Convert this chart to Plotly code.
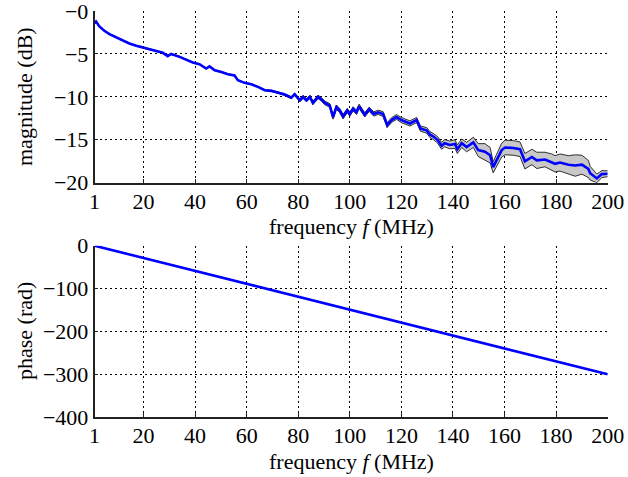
import plotly.graph_objects as go

# ---- data ----
freq_mhz = [1.0, 1.6, 2.9, 4.8, 6.8, 9.4, 11.9, 14.5, 17.2, 20.0, 22.3, 24.9, 27.5, 29.4, 30.7,
            34.0, 36.6, 39.1, 41.7, 44.3, 45.6, 47.6, 50.2, 52.7, 55.3, 56.6, 59.2, 61.8, 64.4,
            67.0, 69.6, 72.1, 74.7, 77.3, 78.6, 80.6, 81.9, 83.2, 84.5, 85.7, 87.7, 89.0, 90.3,
            92.2, 93.5, 94.8, 96.1, 97.4, 99.0, 100.0, 101.3, 102.6, 103.6, 105.8, 107.5, 109.3,
            111.0, 112.9, 114.5, 116.2, 118.1, 120.0, 121.7, 123.3, 125.9, 127.4, 129.8, 131.1,
            132.3, 134.0, 135.6, 136.8, 138.8, 140.8, 141.7, 143.4, 145.3, 147.9, 149.8, 152.4,
            154.4, 155.6, 156.9, 158.9, 160.2, 163.4, 166.0, 167.9, 170.6, 172.5, 175.7, 178.3,
            179.6, 181.5, 184.8, 187.4, 190.0, 192.5, 193.2, 195.8, 197.7, 200.0]

magnitude_db = [-1.40, -1.22, -1.80, -2.30, -2.70, -3.08, -3.47, -3.78, -4.05, -4.28, -4.48, -4.67,
                -4.87, -5.26, -5.00, -5.34, -5.65, -6.00, -6.20, -6.70, -6.45, -6.90, -7.10, -7.36,
                -7.50, -8.06, -8.37, -8.53, -8.84, -9.23, -9.30, -9.54, -9.73, -10.10, -9.70,
                -10.40, -10.00, -10.40, -10.00, -10.70, -10.00, -10.30, -10.70, -11.00, -12.35,
                -11.20, -11.60, -12.30, -11.60, -12.00, -11.40, -11.80, -11.10, -12.10, -11.45,
                -12.00, -11.80, -12.00, -13.30, -12.70, -12.35, -12.70, -12.90, -13.10, -12.70,
                -13.70, -13.90, -14.40, -14.60, -15.00, -15.70, -15.40, -15.60, -15.50, -16.10,
                -15.40, -15.85, -15.30, -16.20, -16.40, -16.80, -18.20, -17.40, -16.20, -15.90,
                -15.95, -16.10, -17.50, -17.00, -17.40, -17.30, -17.60, -17.80, -17.65, -17.90,
                -18.00, -17.90, -18.40, -18.90, -19.50, -19.00, -18.95]

# half-width of the grey uncertainty band (dB)
band_halfwidth_db = [0.05, 0.05, 0.05, 0.05, 0.05, 0.05, 0.05, 0.05, 0.05, 0.05, 0.05, 0.05,
                     0.05, 0.05, 0.05, 0.05, 0.05, 0.05, 0.05, 0.05, 0.05, 0.05, 0.05, 0.05,
                     0.05, 0.05, 0.05, 0.05, 0.05, 0.05, 0.08, 0.08, 0.10, 0.12, 0.12,
                     0.18, 0.18, 0.18, 0.18, 0.20, 0.20, 0.20, 0.22, 0.22, 0.25,
                     0.25, 0.25, 0.25, 0.25, 0.25, 0.25, 0.25, 0.25, 0.25, 0.25,
                     0.25, 0.25, 0.28, 0.28, 0.28, 0.28, 0.30, 0.30, 0.30, 0.30,
                     0.30, 0.32, 0.35, 0.35, 0.38, 0.40, 0.42, 0.45, 0.50, 0.50,
                     0.50, 0.55, 0.60, 0.75, 0.95, 0.90, 0.65, 0.70, 0.80, 0.85,
                     0.85, 0.85, 0.90, 0.90, 0.95, 0.85, 0.95, 0.95, 1.00, 1.05,
                     1.25, 1.10, 1.00, 0.80, 0.50, 0.40, 0.35]

phase_freq_mhz = [1, 20, 40, 60, 80, 100, 120, 140, 160, 180, 200]
phase_rad = [0, -28.6, -58.8, -89.0, -119.2, -149.4, -179.6, -209.8, -240.0, -270.2, -300.4]

mag_ticks = [0, -5, -10, -15, -20]
mag_ticktext = ["\u22120", "\u22125", "\u221210", "\u221215", "\u221220"]
phase_ticks = [0, -100, -200, -300, -400]
phase_ticktext = ["0", "\u2212100", "\u2212200", "\u2212300", "\u2212400"]
freq_ticks = [1, 20, 40, 60, 80, 100, 120, 140, 160, 180, 200]
freq_ticktext = [str(v) for v in freq_ticks]

upper = [m + h for m, h in zip(magnitude_db, band_halfwidth_db)]
lower = [m - h for m, h in zip(magnitude_db, band_halfwidth_db)]

FONT = "Liberation Serif, Times New Roman, DejaVu Serif, serif"
FS = 22
W, H = 628, 477
xdom = [94.5 / W, 607.7 / W]
ydom_top = [1 - 182.7 / H, 1 - 11 / H]
ydom_bot = [1 - 417 / H, 1 - 245.7 / H]

fig = go.Figure()
fig.add_trace(go.Scatter(x=freq_mhz, y=lower, mode="lines",
                         line=dict(color="black", width=0.8), showlegend=False,
                         xaxis="x", yaxis="y"))
fig.add_trace(go.Scatter(x=freq_mhz, y=upper, mode="lines", fill="tonexty",
                         fillcolor="rgb(200,200,200)",
                         line=dict(color="black", width=0.8), showlegend=False,
                         xaxis="x", yaxis="y"))
fig.add_trace(go.Scatter(x=freq_mhz, y=magnitude_db, mode="lines",
                         line=dict(color="rgb(0,0,255)", width=2.6), showlegend=False,
                         xaxis="x", yaxis="y"))
fig.add_trace(go.Scatter(x=phase_freq_mhz, y=phase_rad, mode="lines",
                         line=dict(color="rgb(0,0,255)", width=2.6), showlegend=False,
                         xaxis="x2", yaxis="y2"))

axis_common = dict(
    showgrid=True, gridcolor="black", gridwidth=1, griddash="2px,3px",
    showline=True, linecolor="#222", linewidth=1.5, mirror=False,
    ticks="inside", ticklen=4, tickcolor="#222", tickwidth=1,
    zeroline=False, automargin=False, ticklabeloverflow="allow",
    tickfont=dict(family=FONT, size=FS, color="black"),
)

fig.update_layout(
    width=W, height=H, autosize=False,
    margin=dict(l=0, r=0, t=0, b=0, pad=0),
    paper_bgcolor="white", plot_bgcolor="white",
    font=dict(family=FONT, size=FS, color="black"),
    xaxis=dict(domain=xdom, range=[1, 200], tickvals=freq_ticks, ticktext=freq_ticktext,
               anchor="y", ticklabelstandoff=-2, **axis_common),
    yaxis=dict(domain=ydom_top, range=[-20, 0], tickvals=mag_ticks, ticktext=mag_ticktext,
               anchor="x", **axis_common),
    xaxis2=dict(domain=xdom, range=[1, 200], tickvals=freq_ticks, ticktext=freq_ticktext,
                anchor="y2", ticklabelstandoff=-2, **axis_common),
    yaxis2=dict(domain=ydom_bot, range=[-400, 0], tickvals=phase_ticks, ticktext=phase_ticktext,
                anchor="x2", **axis_common),
)

xc = (xdom[0] + xdom[1]) / 2
annots = [
    dict(text="frequency <i>f</i> (MHz)", x=xc, y=1 - 226 / H),
    dict(text="frequency <i>f</i> (MHz)", x=xc, y=1 - 461 / H),
    dict(text="magnitude (dB)", x=24 / W, y=1 - 97 / H, textangle=-90),
    dict(text="phase (rad)", x=24 / W, y=1 - 331 / H, textangle=-90),
]
for a in annots:
    fig.add_annotation(xref="paper", yref="paper", showarrow=False,
                       xanchor="center", yanchor="middle",
                       font=dict(family=FONT, size=22, color="black"), **a)

fig.write_html("out.html", config={"displayModeBar": False},
               post_script="document.body.style.margin='0';")
